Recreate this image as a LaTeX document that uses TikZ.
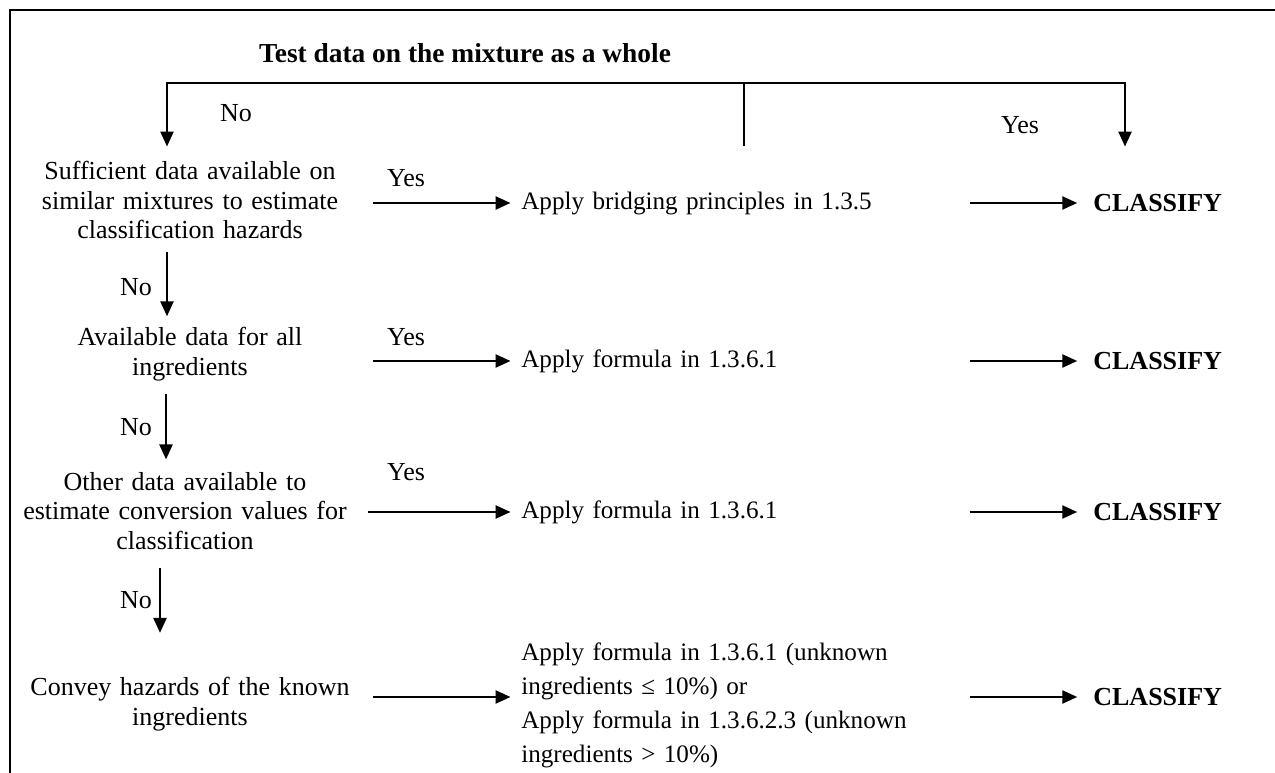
\documentclass[tikz,border=0pt]{standalone}
\usepackage{fontspec}
\setmainfont{Liberation Serif}
\usepackage{tikz}
\usetikzlibrary{arrows.meta, positioning}

\begin{document}
\begin{tikzpicture}[
  x=0.02cm, y=-0.02cm,
  every node/.style={font=\fontsize{14.8}{17}\selectfont, inner sep=0pt},
  q/.style={text width=6.8cm, align=center},
  act/.style={font=\fontsize{14.3}{17}\selectfont, text width=8.8cm, align=left, anchor=west},
  res/.style={font=\fontsize{14.8}{17}\selectfont\bfseries, anchor=west},
  arr/.style={-{Triangle[length=8.5pt, width=7.5pt]}, line width=1.1pt},
]
\useasboundingbox (0,0) rectangle (1275,773);
\draw[line width=1.5pt] (1275,10) -- (10,10) -- (10,773);

\node[font=\fontsize{15.6}{17}\selectfont\bfseries] (title) at (465,53) {Test data on the mixture as a whole};

\node[q] (q1) at (190,200) {Sufficient data available on\\similar mixtures to estimate\\classification hazards};
\node[q] (q2) at (190,354) {Available data for all\\ingredients};
\node[q] (q3) at (185,511) {Other data available to\\estimate conversion values for\\classification};
\node[q] (q4) at (190,704) {Convey hazards of the known\\ingredients};

\node[act] (a1) at (521,203) {Apply bridging principles in 1.3.5};
\node[act] (a2) at (521,361) {Apply formula in 1.3.6.1};
\node[act] (a3) at (521,512) {Apply formula in 1.3.6.1};
\node[act, font=\fontsize{14.3}{19.3}\selectfont] (a4) at (521,705)
  {Apply formula in 1.3.6.1 (unknown\\ingredients ≤ 10\%) or\\Apply formula in 1.3.6.2.3 (unknown\\ingredients > 10\%)};
\coordinate (r4) at (521,697);

\node[res] (c1) at (1093,203) {CLASSIFY};
\node[res] (c2) at (1093,361) {CLASSIFY};
\node[res] (c3) at (1093,512) {CLASSIFY};
\node[res] (c4) at (1093,697) {CLASSIFY};

\coordinate (fork) at (744,83);
\coordinate (stem) at (744,146);

% top split
\draw[line width=1.1pt] (stem) -- (fork);
\draw[arr, shorten >=8pt] (fork) -| (q1.north -| 167,0);
\draw[arr, shorten >=27pt] (fork) -| (c1.north -| 1125,0);
\node (no0) at (236,113) {No};
\node (yes0) at (1020,125) {Yes};

% yes branches
\draw[arr, shorten <=7.5pt, shorten >=6pt] (q1.east |- a1.west) -- (a1.west);
\draw[arr, shorten <=7.5pt, shorten >=6pt] (q2.east |- a2.west) -- (a2.west);
\draw[arr, shorten <=7.5pt, shorten >=6pt] (q3.east |- a3.west) -- (a3.west);
\draw[arr, shorten <=7.5pt, shorten >=6pt] (q4.east |- r4) -- (r4);
\node (yes1) at (406,178) {Yes};
\node (yes2) at (406,337) {Yes};
\node (yes3) at (406,472) {Yes};

\draw[arr, shorten <=4.5pt, shorten >=9pt] (a1.east) -- (c1.west);
\draw[arr, shorten <=4.5pt, shorten >=9pt] (a2.east) -- (c2.west);
\draw[arr, shorten <=4.5pt, shorten >=9pt] (a3.east) -- (c3.west);
\draw[arr, shorten <=4.5pt, shorten >=9pt] (a4.east |- c4.west) -- (c4.west);

% no branches
\draw[arr, shorten <=7pt, shorten >=6pt] (q1.south -| 167,0) -- (q2.north -| 167,0);
\draw[arr, shorten <=7pt, shorten >=7pt] (q2.south -| 166,0) -- (q3.north -| 166,0);
\draw[arr, shorten <=10pt, shorten >=25pt] (q3.south -| 160,0) -- (q4.north -| 160,0);
\node (no1) at (136,287) {No};
\node (no2) at (136,427) {No};
\node (no3) at (136,600) {No};
\end{tikzpicture}
\end{document}
